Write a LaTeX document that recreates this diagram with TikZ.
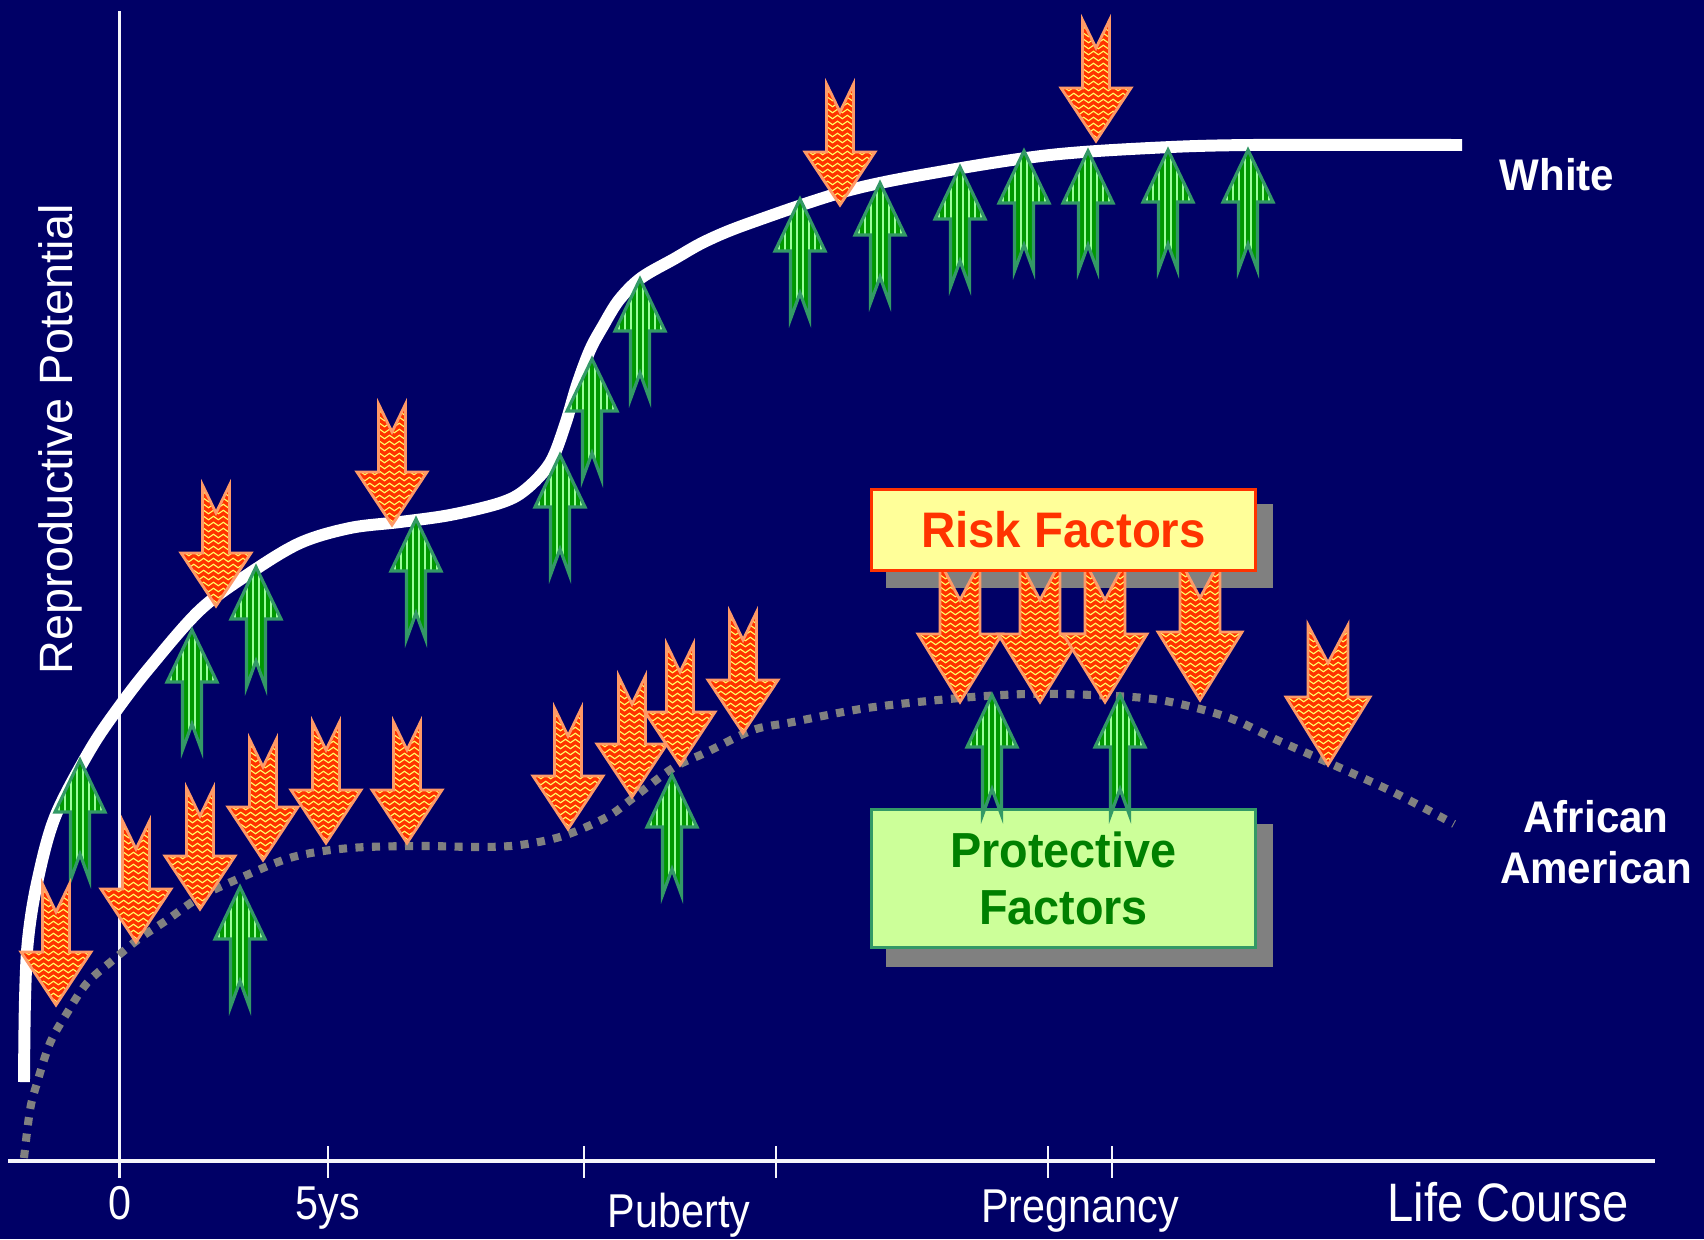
\documentclass[tikz,border=0pt]{standalone}
\usepackage{fontspec}
\setmainfont{Liberation Sans}
\newfontfamily\narrowfont[FakeStretch=0.87]{Liberation Sans}
\newfontfamily\boxfont[FakeStretch=0.95]{Liberation Sans}
\usetikzlibrary{calc,decorations.pathmorphing}

\definecolor{navy}{HTML}{000066}
\definecolor{riskred}{HTML}{FF3300}
\definecolor{riskedge}{HTML}{FF9966}
\definecolor{wavey}{HTML}{FFFF66}
\definecolor{riskfill}{HTML}{FFFF99}
\definecolor{protgreen}{HTML}{009900}
\definecolor{protedge}{HTML}{339966}
\definecolor{stripeg}{HTML}{99FF99}
\definecolor{protfill}{HTML}{CCFF99}
\definecolor{prottext}{HTML}{008000}
\definecolor{shadowgray}{HTML}{808080}
\definecolor{axiswhite}{HTML}{F4F4FA}

\tikzset{
  axis/.style={draw=axiswhite},
  ticklabel/.style={anchor=base, text=white, inner sep=0pt,
    font=\narrowfont\fontsize{13.5}{16}\selectfont},
  sidelabel/.style={text=white, inner sep=0pt, align=center,
    font=\boxfont\bfseries\fontsize{12.6}{14.5}\selectfont},
  riskarrow/.style={draw=riskedge, line width=0.8pt, fill=riskred,
    path picture={
      \foreach \k in {3,9,...,170}
        \draw[wavey, line width=0.32pt, decorate,
              decoration={snake, amplitude=0.5pt, segment length=2.8pt}]
          ($(path picture bounding box.north west)+(-10,\k)$) --
          ($(path picture bounding box.north east)+(10,\k)$);
    }},
  protarrow/.style={draw=protedge, line width=0.9pt, fill=protgreen,
    path picture={
      \foreach \k in {-63,-57,...,63}
        \draw[stripeg, line width=0.7pt]
          ($(path picture bounding box.north)+(\k,0)$) --
          ($(path picture bounding box.south)+(\k,0)$);
    }},
  riskbox/.style={draw=riskred, line width=0.95pt, fill=riskfill, text=riskred,
    minimum width=3.84cm, minimum height=0.81cm, inner sep=0pt,
    font=\boxfont\bfseries\fontsize{14.2}{16}\selectfont},
  protbox/.style={draw=protedge, line width=0.95pt, fill=protfill, text=prottext,
    minimum width=3.84cm, minimum height=1.38cm, inner sep=0pt, align=center,
    font=\boxfont\bfseries\fontsize{14}{16.1}\selectfont},
}

\begin{document}
\begin{tikzpicture}[x=0.01cm, y=-0.01cm]
  \useasboundingbox (0,0) rectangle (1704,1239);
  \fill[navy] (0,0) rectangle (1704,1239);

  % axes
  \draw[axis, line width=1.1pt] (119.5,11) -- (119.5,1178);
  \draw[axis, line width=1.4pt] (8,1161) -- (1655,1161);
  \foreach \t in {328,584,776,1048,1112}
    \draw[axis, line width=0.45pt] (\t,1146) -- (\t,1178);

  \node[ticklabel] (zero) at (119.5,1219) {0};
  \node[ticklabel] (five) at (328,1219) {5ys};
  \node[ticklabel] (puberty) at (679,1227) {Puberty};
  \node[ticklabel] (pregnancy) at (1080,1222) {Pregnancy};
  \node[ticklabel, font=\narrowfont\fontsize{15.4}{18}\selectfont] (life) at (1508,1221) {Life Course};
  \node[text=white, rotate=90, inner sep=0pt, font=\fontsize{13.3}{16}\selectfont]
    (potential) at (60,439) {Reproductive Potential};

  % curves
  \draw[white, line width=3.4pt, smooth, tension=0.55] plot coordinates {
    (24,1082) (25,1000) (28,940) (37,883) (55,817) (90,750) (119,707)
    (150,667) (200,610) (250,573) (300,543) (350,528) (400,522) (450,515)
    (500,503) (525,490) (550,463) (565,425) (577,385) (590,350) (603,326)
    (619,300) (641,278) (674,259) (706,241) (750,223) (850,190) (950,170)
    (1050,155) (1150,148) (1250,145) (1462,145)};
  \draw[shadowgray, line width=2.3pt, dash pattern=on 2.3pt off 2.4pt, smooth, tension=0.55]
    plot coordinates {
    (24,1158) (30,1110) (37,1083) (50,1043) (67,1013) (87,983) (113,960)
    (140,938) (167,920) (200,897) (240,878) (293,857) (350,848) (420,846)
    (480,847) (520,845) (563,836) (607,817) (633,798) (673,768) (707,752)
    (753,730) (793,722) (867,708) (960,698) (1027,694) (1093,695) (1160,700)
    (1227,717) (1277,740) (1327,762) (1393,792) (1454,824)};

  \node[sidelabel] (white) at (1557,175) {White};
  \node[sidelabel] (afam) at (1596,842) {African\\American};

  % box shadows
  \fill[shadowgray] (886,504) rectangle (1273,588);
  \fill[shadowgray] (886,824) rectangle (1273,967);
  \node[protbox] (protect) at (1063.5,878.5) {Protective\\Factors};

  % protective factors
  \foreach \x/\y in {80/760, 192/630, 256/567, 416/519, 560/455, 592/359,
      640/279, 800/199, 880/183, 960/167, 1024/151, 1088/151, 1168/150,
      1248/150, 240/887, 672/775, 992/695, 1120/695}
    \draw[protarrow] (\x,\y) -- ++(-25,52) -- ++(15.5,0) -- ++(0,68)
      -- ++(9.5,-26) -- ++(9.5,26) -- ++(0,-68) -- ++(15.5,0) -- cycle;

  % risk factors
  \foreach \x/\y in {56/1005, 136/942, 200/909, 263/860, 326/843, 407/843,
      216/606, 392/525, 568/829, 632/797, 680/765, 743/733, 840/205, 1096/141}
    \draw[riskarrow] (\x,\y) -- ++(-35,-53) -- ++(21.5,0) -- ++(0,-68)
      -- ++(13.5,28) -- ++(13.5,-28) -- ++(0,68) -- ++(21.5,0) -- cycle;
  \foreach \x/\y in {960/702, 1040/702, 1105/702, 1200/700, 1328/765}
    \draw[riskarrow] (\x,\y) -- ++(-42,-68) -- ++(22,0) -- ++(0,-72)
      -- ++(20,38) -- ++(20,-38) -- ++(0,72) -- ++(22,0) -- cycle;

  \node[riskbox] (risk) at (1063.5,530) {Risk Factors};
\end{tikzpicture}
\end{document}
